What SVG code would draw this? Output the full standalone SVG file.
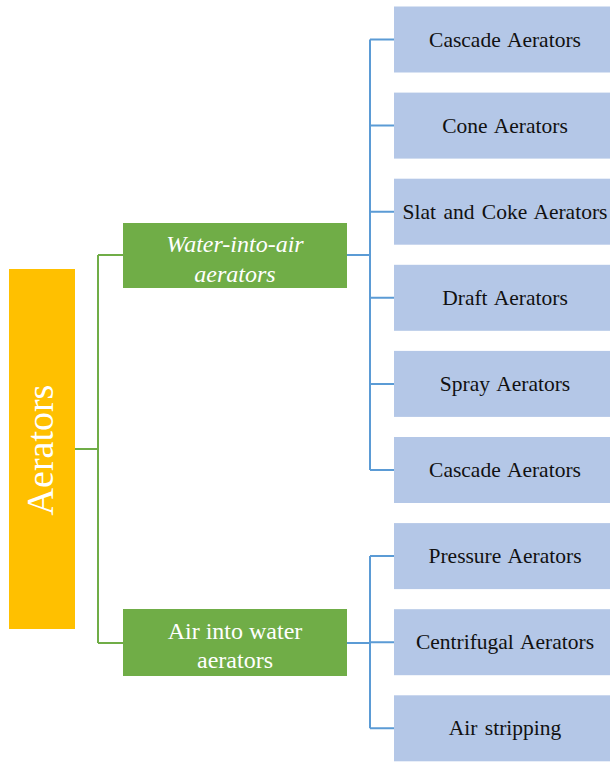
<svg xmlns="http://www.w3.org/2000/svg" width="610" height="762" viewBox="0 0 610 762" font-family="Liberation Serif,Times New Roman,serif">
<style>
.leaf rect{fill:#B4C7E7}
.leaf text{font-size:21.5px;fill:#111;text-anchor:middle;word-spacing:2px}
.mid rect{fill:#70AD47}
.mid text{font-size:24px;fill:#fff;text-anchor:middle}
.gl{stroke:#70AD47;stroke-width:2;fill:none}
.bl{stroke:#5B9BD5;stroke-width:2;fill:none}
</style>
<rect width="610" height="762" fill="#fff"/>
<g id="connectors">
<path class="gl" d="M75 449H98M98 255V643M98 255H123M98 643H123"/>
<path class="bl" d="M347 255H370M370 39.5V470M370 39.5H394M370 125.6H394M370 211.7H394M370 297.8H394M370 383.9H394M370 470H394"/>
<path class="bl" d="M347 643H370M370 556.1V728.3M370 556.1H394M370 642.2H394M370 728.3H394"/>
</g>
<g id="root">
<rect x="9" y="269" width="66" height="360" fill="#FFC000"/>
<text transform="translate(53 450) rotate(-90)" font-size="38" fill="#fff" text-anchor="middle">Aerators</text>
</g>
<g id="water-into-air" class="mid">
<rect x="123" y="223" width="224" height="65"/>
<text x="235" y="252" font-style="italic">Water-into-air</text>
<text x="235" y="282" font-style="italic">aerators</text>
</g>
<g id="air-into-water" class="mid">
<rect x="123" y="609" width="224" height="67"/>
<text x="235" y="639">Air into water</text>
<text x="235" y="668">aerators</text>
</g>
<g id="cascade1" class="leaf"><rect x="394" y="6.5" width="216" height="66"/><text x="505" y="47">Cascade Aerators</text></g>
<g id="cone" class="leaf"><rect x="394" y="92.6" width="216" height="66"/><text x="505" y="133">Cone Aerators</text></g>
<g id="slat" class="leaf"><rect x="394" y="178.7" width="216" height="66"/><text x="505" y="219" word-spacing="0">Slat and Coke Aerators</text></g>
<g id="draft" class="leaf"><rect x="394" y="264.8" width="216" height="66"/><text x="505" y="305">Draft Aerators</text></g>
<g id="spray" class="leaf"><rect x="394" y="350.9" width="216" height="66"/><text x="505" y="391">Spray Aerators</text></g>
<g id="cascade2" class="leaf"><rect x="394" y="437" width="216" height="66"/><text x="505" y="477">Cascade Aerators</text></g>
<g id="pressure" class="leaf"><rect x="394" y="523.1" width="216" height="66"/><text x="505" y="563">Pressure Aerators</text></g>
<g id="centrifugal" class="leaf"><rect x="394" y="609.2" width="216" height="66"/><text x="505" y="649">Centrifugal Aerators</text></g>
<g id="stripping" class="leaf"><rect x="394" y="695.3" width="216" height="66"/><text x="505" y="735">Air stripping</text></g>
</svg>
